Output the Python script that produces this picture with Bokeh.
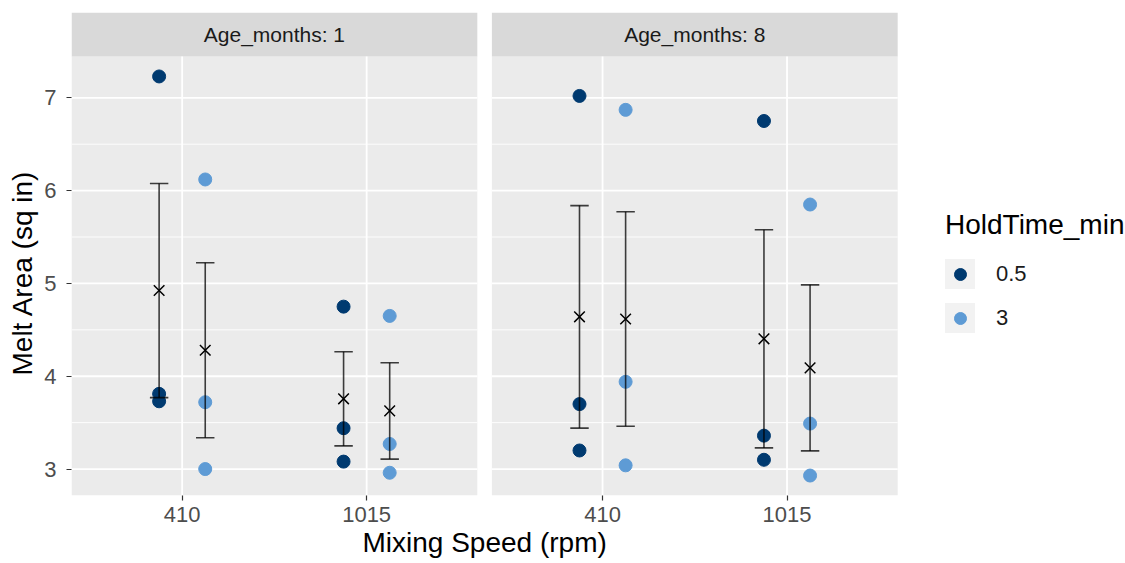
import numpy as np
from bokeh.plotting import figure
from bokeh.models import (ColumnDataSource, FixedTicker, CustomJSTickFormatter, Legend,
                          LegendItem, Title, Range1d)
from bokeh.transform import dodge
from bokeh.core.properties import value
from bokeh.embed import file_html
from bokeh.resources import INLINE

# ---------------- data ----------------
ages = [1, 8]
speeds = ["410", "1015"]
holds = ["0.5", "3"]
hold_colors = ["#003A70", "#5E9BD5"]

age_months = [1] * 12 + [8] * 12
mixing_speed = (["410"] * 6 + ["1015"] * 6) * 2
hold_time = (["0.5"] * 3 + ["3"] * 3) * 4
melt_area = [7.23, 3.81, 3.73, 6.12, 3.72, 3.00,
             4.75, 3.44, 3.08, 4.65, 3.27, 2.96,
             7.02, 3.70, 3.20, 6.87, 3.94, 3.04,
             6.75, 3.36, 3.10, 5.85, 3.49, 2.93]

# ---------------- layout constants ----------------
FONT = "Liberation Sans"
GAP = 0.079               # gap between the facet panels (data units)
OFFSETS = [0.0, 2.2 + GAP]
RIGHT_PAD = 1.235         # white area on the right holding the legend (data units)
DODGE = {"0.5": -0.125, "3": 0.125}
CAP = 0.05

yvals = np.array(melt_area)
yr = yvals.max() - yvals.min()
y_lo = yvals.min() - 0.05 * yr
y_hi = yvals.max() + 0.05 * yr
strip_h = 0.474
y_top = y_hi + strip_h

p = figure(width=1125, height=563, output_backend="svg", toolbar_location=None,
           x_range=Range1d(0.4, 2.6 + OFFSETS[1] + RIGHT_PAD), y_range=Range1d(y_lo, y_top),
           min_border_left=71, min_border_right=0, min_border_top=12, min_border_bottom=68,
           background_fill_color="white", border_fill_color="white", title=None)
p.outline_line_color = None
p.xgrid.visible = False
p.ygrid.visible = False

# mean +/- standard error per group
sx, smean, slo, shi = [], [], [], []
for a in ages:
    for s in speeds:
        for h in holds:
            vals = np.array([m for m, aa, ss, hh in zip(melt_area, age_months, mixing_speed, hold_time)
                             if aa == a and ss == s and hh == h])
            mu = vals.mean()
            se = vals.std(ddof=1) / np.sqrt(len(vals))
            sx.append(OFFSETS[ages.index(a)] + speeds.index(s) + 1 + DODGE[h])
            smean.append(mu)
            slo.append(mu - se)
            shi.append(mu + se)
summ = ColumnDataSource(dict(x=sx, mean=smean, lo=slo, hi=shi))

# legend-key background glyphs: drawn first, so the panels hide them in the plot area
bg_box = p.quad(left="x", right="x", bottom="mean", top="mean", source=summ,
                fill_color="#F2F2F2", line_color=None)
bg_sq = p.scatter(x="x", y="mean", source=summ, marker="square", size=12,
                  fill_color="#F2F2F2", line_color="#F2F2F2", line_width=33, line_join="miter")

# panels, strips, grid lines
for ai, age in enumerate(ages):
    off = OFFSETS[ai]
    p.quad(left=off + 0.4, right=off + 2.6, bottom=y_lo, top=y_hi,
           fill_color="#EBEBEB", line_color=None)
    p.quad(left=off + 0.4, right=off + 2.6, bottom=y_hi, top=y_top,
           fill_color="#D9D9D9", line_color=None)
    minors = [v + 0.5 for v in range(2, 8) if y_lo < v + 0.5 < y_hi]
    majors = [v for v in range(3, 8)]
    p.segment(x0=[off + 0.4] * len(minors), x1=[off + 2.6] * len(minors), y0=minors, y1=minors,
              line_color="white", line_width=0.9)
    p.segment(x0=[off + 0.4] * len(majors), x1=[off + 2.6] * len(majors), y0=majors, y1=majors,
              line_color="white", line_width=1.8)
    xs = [off + 1 + i for i in range(len(speeds))]
    p.segment(x0=xs, x1=xs, y0=[y_lo] * len(xs), y1=[y_hi] * len(xs),
              line_color="white", line_width=1.8)
    p.text(x=[off + 1.5], y=[(y_hi + y_top) / 2], text=[f"Age_months: {age}"],
           text_align="center", text_baseline="middle", text_font=value(FONT),
           text_font_size="21px", text_color="#1A1A1A")

# points
x_base = [OFFSETS[ages.index(a)] + speeds.index(s) + 1 for a, s in zip(age_months, mixing_speed)]
dot_renderers = {}
for h, col in zip(holds, hold_colors):
    idx = [i for i, hh in enumerate(hold_time) if hh == h]
    src = ColumnDataSource(dict(x=[x_base[i] for i in idx], y=[melt_area[i] for i in idx]))
    dot_renderers[h] = p.scatter(x=dodge("x", DODGE[h]), y="y", source=src, size=13,
                                 fill_color=col, line_color=col, marker="circle")

# error bars and means
eb = dict(line_color="black", line_alpha=0.75, line_width=1.6)
p.segment(x0="x", x1="x", y0="lo", y1="hi", source=summ, **eb)
p.segment(x0=dodge("x", -CAP), x1=dodge("x", CAP), y0="hi", y1="hi", source=summ, **eb)
p.segment(x0=dodge("x", -CAP), x1=dodge("x", CAP), y0="lo", y1="lo", source=summ, **eb)
p.scatter(x="x", y="mean", source=summ, marker="x", size=15, line_color="black", line_width=1.5)

# axes
tick_pos = [OFFSETS[ai] + 1 + i for ai in range(len(ages)) for i in range(len(speeds))]
tick_lab = speeds * len(ages)
p.xaxis.ticker = FixedTicker(ticks=tick_pos)
p.xaxis.formatter = CustomJSTickFormatter(args=dict(tpos=tick_pos, tlab=tick_lab), code="""
    for (let i = 0; i < tpos.length; i++) { if (Math.abs(tpos[i] - tick) < 1e-6) return tlab[i]; }
    return "";
""")
p.yaxis.ticker = FixedTicker(ticks=[3, 4, 5, 6, 7])
for ax in (p.xaxis[0], p.yaxis[0]):
    ax.axis_line_color = None
    ax.major_tick_line_color = "#333333"
    ax.major_tick_line_width = 1.2
    ax.major_tick_out = 5
    ax.major_tick_in = 0
    ax.minor_tick_line_color = None
    ax.major_label_text_font = FONT
    ax.major_label_text_font_size = "22px"
    ax.major_label_text_color = "#4D4D4D"
p.xaxis.major_label_standoff = 6
p.yaxis.major_label_standoff = 10

# axis titles (centred on the facet panels, not on the whole frame)
p.add_layout(Title(text="Mixing Speed (rpm)", align="left", offset=291, standoff=0,
                   text_font=FONT, text_font_size="28px", text_font_style="normal",
                   text_color="black"), "below")
p.add_layout(Title(text="Melt Area (sq in)", align="left", offset=120, standoff=8,
                   text_font=FONT, text_font_size="28px", text_font_style="normal",
                   text_color="black"), "left")

# legend
items = [LegendItem(label=h, renderers=[bg_box, bg_sq, dot_renderers[h]]) for h in holds]
legend = Legend(items=items, location=(874, 162), title="HoldTime_min",
                title_text_font=FONT, title_text_font_size="28px", title_text_color="black",
                title_text_font_style="normal", title_standoff=18,
                label_text_font=FONT, label_text_font_size="22px", label_text_color="#1A1A1A",
                glyph_width=30, glyph_height=30, spacing=14, label_standoff=21,
                padding=0, margin=0, border_line_color=None, background_fill_alpha=0)
p.add_layout(legend, "center")

open("out.html", "w").write(file_html(p, INLINE))
